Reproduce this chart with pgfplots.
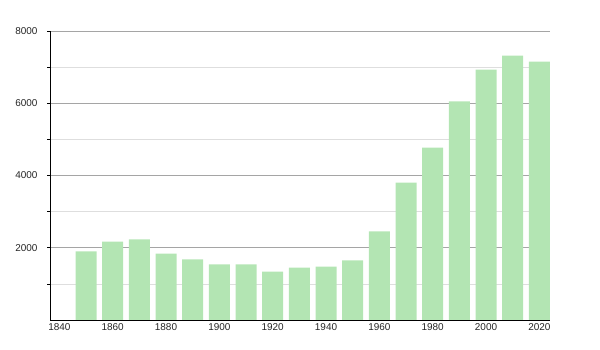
\documentclass[border=0pt]{standalone}
\usepackage{pgfplots}
\pgfplotsset{compat=1.18}
\usepackage{fontspec}
\setmainfont{Liberation Sans}
\definecolor{bargreen}{RGB}{179,229,179}
\definecolor{majgrid}{RGB}{165,165,165}
\definecolor{mingrid}{RGB}{222,222,222}
\begin{document}
\begin{tikzpicture}
\useasboundingbox (0,0) rectangle (600bp,350bp);
\begin{axis}[
  at={(50bp,30bp)}, anchor=south west,
  scale only axis, width=500bp, height=289bp,
  xmin=1836.5, xmax=2024, ymin=0, ymax=8000,
  axis x line*=bottom, axis y line*=left,
  axis line style={black, line width=0.8pt, -},
  xtick={1840,1860,...,2020},
  ytick={2000,4000,6000,8000},
  minor ytick={1000,3000,5000,7000},
  major tick length=0pt, minor tick length=3bp,
  ytick style={black, line width=0.6pt},
  extra y ticks={2000,4000,6000,8000},
  extra y tick labels={},
  extra y tick style={major tick length=3bp, tick align=outside, grid=none},
  tick align=outside,
  ymajorgrids, yminorgrids,
  major grid style={majgrid, line width=0.7pt},
  minor grid style={mingrid, line width=0.6pt},
  xticklabel style={yshift=0bp},
  yticklabel style={xshift=-9bp},
  tick label style={font=\fontsize{10}{12}\selectfont, text=black!85},
  /pgf/number format/assume math mode=true,
  /pgf/number format/1000 sep={},
  scaled y ticks=false,
  clip=true,
]
\addplot[ybar, bar width=21bp, fill=bargreen, draw=none] coordinates {
(1850,1900) (1860,2170) (1870,2230) (1880,1840) (1890,1680)
(1900,1540) (1910,1540) (1920,1340) (1930,1450) (1940,1480)
(1950,1650) (1960,2450) (1970,3800) (1980,4770) (1990,6050)
(2000,6930) (2010,7320) (2020,7150)
};
\end{axis}
\end{tikzpicture}
\end{document}
